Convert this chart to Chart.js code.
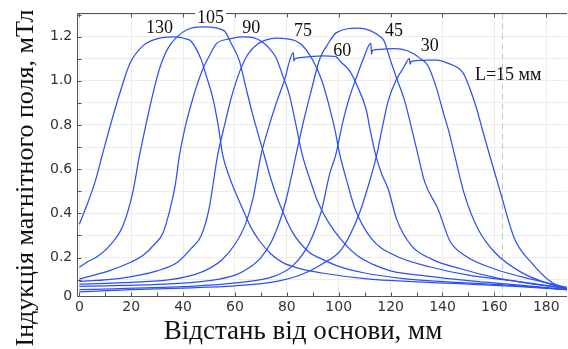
<!DOCTYPE html>
<html>
<head>
<meta charset="utf-8">
<script src="https://cdn.jsdelivr.net/npm/chart.js@4.4.0/dist/chart.umd.min.js"></script>
<style>
html, body { margin: 0; padding: 0; background: #fff; }
</style>
</head>
<body>
<canvas id="fieldChart" width="568" height="349"></canvas>
<script>
// magnet length, mm (one curve per length)
var curveNames = ['130', '105', '90', '75', '60', '45', '30', '15'];

// distance from base, mm  /  induction, mT
var x130 = [0, 3, 6, 8.8, 12, 15.5, 19.4, 24.5, 30.9, 37.3, 41, 43, 46.9, 49, 51.4, 53.5, 55.3, 58, 60, 63, 66, 69.4, 74, 78.3, 85, 93.5, 110, 130, 150, 170, 188];
var y130 = [0.351, 0.44, 0.54, 0.662, 0.80, 0.94, 1.076, 1.158, 1.193, 1.199, 1.19, 1.18, 1.098, 1.02, 0.925, 0.80, 0.662, 0.56, 0.50, 0.419, 0.34, 0.276, 0.215, 0.178, 0.15, 0.13, 0.105, 0.09, 0.08, 0.068, 0.055];

var x105 = [0, 3, 6.5, 11.7, 16.8, 20.6, 23.2, 31.5, 39.6, 48.2, 55.9, 58.5, 61.7, 64.2, 67, 71.3, 74, 77, 82.2, 88.6, 93.5, 100, 110, 125, 145, 165, 188];
var y105 = [0.156, 0.18, 0.201, 0.254, 0.344, 0.495, 0.662, 1.076, 1.218, 1.244, 1.226, 1.17, 1.09, 0.97, 0.84, 0.662, 0.55, 0.449, 0.314, 0.224, 0.193, 0.16, 0.13, 0.105, 0.088, 0.075, 0.055];

var x90 = [0, 11.7, 20, 24.5, 29, 32.2, 35, 37, 38.6, 41, 44, 47.6, 50, 52.7, 58, 63, 67, 70, 73, 75.8, 78.5, 80.9, 83.5, 86, 89, 92, 96, 101, 107, 113, 120, 135, 150, 170, 188];
var y90 = [0.103, 0.141, 0.18, 0.209, 0.26, 0.31, 0.42, 0.53, 0.662, 0.80, 0.93, 1.053, 1.11, 1.166, 1.19, 1.199, 1.195, 1.18, 1.15, 1.105, 1.02, 0.94, 0.80, 0.662, 0.55, 0.45, 0.36, 0.28, 0.21, 0.17, 0.14, 0.115, 0.095, 0.075, 0.055];

var x75 = [0, 15, 30, 38, 43, 47, 50, 53.3, 56, 58.5, 61.7, 65, 68.7, 72, 76, 80, 83.5, 86, 88.6, 91, 93.5, 96, 98.5, 100.5, 103.5, 106.3, 112.7, 121.7, 135.8, 150, 170, 188];
var y75 = [0.092, 0.105, 0.14, 0.18, 0.24, 0.3, 0.42, 0.662, 0.80, 0.92, 1.038, 1.12, 1.166, 1.185, 1.193, 1.19, 1.18, 1.16, 1.121, 1.07, 1.0, 0.9, 0.78, 0.662, 0.53, 0.42, 0.284, 0.209, 0.156, 0.12, 0.09, 0.06];

var x60 = [0, 20, 35, 45, 50, 55, 60, 64, 67, 70, 73, 75.8, 79, 82.5, 82.7, 83.2, 88, 93.5, 98.6, 101, 104.2, 106.8, 110.7, 111.9, 114.3, 116.5, 119.1, 122.3, 128, 135.8, 147.3, 160, 175, 188];
var y60 = [0.08, 0.088, 0.1, 0.125, 0.15, 0.19, 0.26, 0.35, 0.47, 0.662, 0.79, 0.895, 1.0, 1.128, 1.09, 1.1, 1.108, 1.113, 1.11, 1.083, 1.045, 0.985, 0.865, 0.79, 0.662, 0.58, 0.509, 0.374, 0.254, 0.193, 0.148, 0.11, 0.08, 0.06];

var x45 = [0, 30, 50, 60, 65, 70, 74, 78, 80.5, 83.5, 86.5, 89.5, 92.7, 96, 99.1, 107.4, 116.4, 117.5, 119.6, 122.2, 125.4, 128.6, 130.6, 133.2, 138.3, 142.8, 148.6, 160.1, 175, 188];
var y45 = [0.07, 0.078, 0.095, 0.12, 0.15, 0.2, 0.27, 0.39, 0.5, 0.662, 0.82, 0.96, 1.10, 1.17, 1.218, 1.238, 1.196, 1.18, 1.105, 1.015, 0.91, 0.76, 0.662, 0.54, 0.419, 0.276, 0.209, 0.148, 0.1, 0.065];

var x30 = [0, 40, 60, 75, 82, 87, 90, 93.5, 96.5, 98.8, 101.7, 104, 106.8, 109.5, 112.4, 112.6, 113, 116, 121.5, 126.7, 131.8, 134.4, 137.6, 140.1, 142.7, 144.7, 148.6, 153.7, 160.1, 170.4, 183.2, 188];
var y30 = [0.055, 0.068, 0.085, 0.115, 0.16, 0.23, 0.3, 0.419, 0.579, 0.662, 0.82, 0.92, 1.015, 1.1, 1.17, 1.12, 1.138, 1.142, 1.146, 1.135, 1.098, 1.068, 0.97, 0.865, 0.76, 0.662, 0.48, 0.329, 0.224, 0.133, 0.073, 0.058];

var x15 = [0, 20, 40, 60, 75, 85, 93.5, 101.2, 107.6, 111.4, 114.6, 117, 119.1, 122, 125, 127.3, 127.5, 128, 132, 137.6, 142, 147.8, 149.1, 151, 153, 155.5, 158.2, 162.7, 167.8, 174.2, 182, 188];
var y15 = [0.045, 0.055, 0.062, 0.072, 0.09, 0.12, 0.17, 0.239, 0.389, 0.525, 0.662, 0.8, 0.91, 1.0, 1.06, 1.1, 1.075, 1.088, 1.092, 1.094, 1.08, 1.038, 1.008, 0.95, 0.88, 0.774, 0.662, 0.48, 0.284, 0.178, 0.088, 0.058];

var curveXs = [x130, x105, x90, x75, x60, x45, x30, x15];
var curveYs = [y130, y105, y90, y75, y60, y45, y30, y15];

// curve captions, anchored in data units
var captionTexts = ['130', '105', '90', '75', '60', '45', '30', 'L=15 мм'];
var captionX = [30.9, 50.6, 66.3, 86.2, 101.4, 121.3, 135.1, 165.3];
var captionY = [1.238, 1.283, 1.238, 1.223, 1.132, 1.226, 1.158, 1.027];

var xTickValues = [0, 20, 40, 60, 80, 100, 120, 140, 160, 180];
var xTickLabels = ['0', '20', '40', '60', '80', '100', '120', '140', '160', '180'];
var yTickValues = [0.025, 0.1, 0.2, 0.3, 0.4, 0.5, 0.6, 0.7, 0.8, 0.9, 1.0, 1.1, 1.2, 1.3];
var yTickLabels = ['0', '', '0.2', '', '0.4', '', '0.6', '', '0.8', '', '1.0', '', '1.2', ''];
var markerX = 163;

var xTitle = 'Відстань від основи, мм';
var yTitle = 'Індукція магнітного поля, мТл';

var lineBlue = 'rgb(45,80,245)';

var decor = {
	id: 'decor',
	beforeDatasetsDraw: function(chart) {
		var ctx = chart.ctx, a = chart.chartArea;
		var px = chart.scales.x.getPixelForValue(markerX);
		ctx.save();
		ctx.strokeStyle = '#c4c4c4';
		ctx.lineWidth = 1;
		ctx.setLineDash([6, 4]);
		ctx.beginPath();
		ctx.moveTo(Math.round(px) + 0.5, a.top);
		ctx.lineTo(Math.round(px) + 0.5, a.bottom);
		ctx.stroke();
		ctx.restore();
	},
	afterDraw: function(chart) {
		var ctx = chart.ctx, a = chart.chartArea;
		var xs = chart.scales.x, ys = chart.scales.y;
		var l = Math.round(a.left) + 0.5, t = Math.round(a.top) + 0.5, b = Math.round(a.bottom) + 0.5;
		ctx.save();

		// frame
		ctx.strokeStyle = '#555';
		ctx.lineWidth = 1;
		ctx.beginPath();
		ctx.moveTo(a.right, t);
		ctx.lineTo(l, t);
		ctx.lineTo(l, b);
		ctx.lineTo(a.right, b);
		ctx.stroke();

		// inward ticks
		ctx.beginPath();
		for (var v = 0; v <= 180; v += 10) {
			var px = Math.round(xs.getPixelForValue(v)) + 0.5;
			ctx.moveTo(px, b);
			ctx.lineTo(px, b - 4);
			if (v % 20 === 0) {
				ctx.moveTo(px, t);
				ctx.lineTo(px, t + 4);
			}
		}
		for (var k = 1; k <= 13; k++) {
			var py = Math.round(ys.getPixelForValue(k / 10)) + 0.5;
			ctx.moveTo(l, py);
			ctx.lineTo(l + 4, py);
		}
		ctx.stroke();

		// curve captions
		ctx.font = '18px "Liberation Serif", "Times New Roman", serif';
		ctx.textAlign = 'center';
		ctx.textBaseline = 'middle';
		for (var i = 0; i < captionTexts.length; i++) {
			var cx = xs.getPixelForValue(captionX[i]);
			var cy = ys.getPixelForValue(captionY[i]);
			if (i === 1) {
				var w = ctx.measureText(captionTexts[i]).width;
				ctx.fillStyle = '#fff';
				ctx.fillRect(cx - w / 2 - 2, cy - 8, w + 4, 14);
			}
			ctx.fillStyle = '#111';
			ctx.fillText(captionTexts[i], cx, cy);
		}

		// axis titles
		ctx.fillStyle = '#111';
		ctx.font = '27px "Liberation Serif", "Times New Roman", serif';
		ctx.textBaseline = 'alphabetic';
		ctx.fillText(xTitle, 303, 339);

		ctx.font = '26px "Liberation Serif", "Times New Roman", serif';
		ctx.translate(33, 178);
		ctx.rotate(-Math.PI / 2);
		ctx.fillText(yTitle, 0, 0);
		ctx.restore();
	}
};

var config = {
	type: 'line',
	data: {
		datasets: curveNames.map(function(name, i) {
			return {
				label: name,
				data: curveXs[i].map(function(x, j) { return { x: x, y: curveYs[i][j] }; }),
				borderColor: lineBlue,
				borderWidth: 1.25,
				pointRadius: 0,
				cubicInterpolationMode: 'monotone',
				fill: false
			};
		})
	},
	options: {
		responsive: false,
		animation: false,
		layout: {
			padding: { left: 45, right: 1, top: 12, bottom: 30 }
		},
		plugins: {
			legend: { display: false },
			tooltip: { enabled: false }
		},
		scales: {
			x: {
				type: 'linear',
				min: -0.8,
				max: 188,
				afterBuildTicks: function(axis) {
					axis.ticks = xTickValues.map(function(v) { return { value: v }; });
				},
				ticks: {
					autoSkip: false,
					maxRotation: 0,
					padding: 3,
					color: '#333',
					font: { family: 'DejaVu Sans', size: 14 },
					callback: function(value, index) { return xTickLabels[index]; }
				},
				grid: { color: '#ececec', drawTicks: false },
				border: { display: false }
			},
			y: {
				type: 'linear',
				min: 0.025,
				max: 1.305,
				afterBuildTicks: function(axis) {
					axis.ticks = yTickValues.map(function(v) { return { value: v }; });
				},
				ticks: {
					autoSkip: false,
					padding: 5,
					color: '#333',
					font: { family: 'DejaVu Sans', size: 14 },
					callback: function(value, index) { return yTickLabels[index]; }
				},
				grid: { color: '#ececec', drawTicks: false },
				border: { display: false }
			}
		}
	},
	plugins: [decor]
};

window.onload = function() {
	var ctx = document.getElementById('fieldChart').getContext('2d');
	window.fieldChart = new Chart(ctx, config);
};
</script>
</body>
</html>
